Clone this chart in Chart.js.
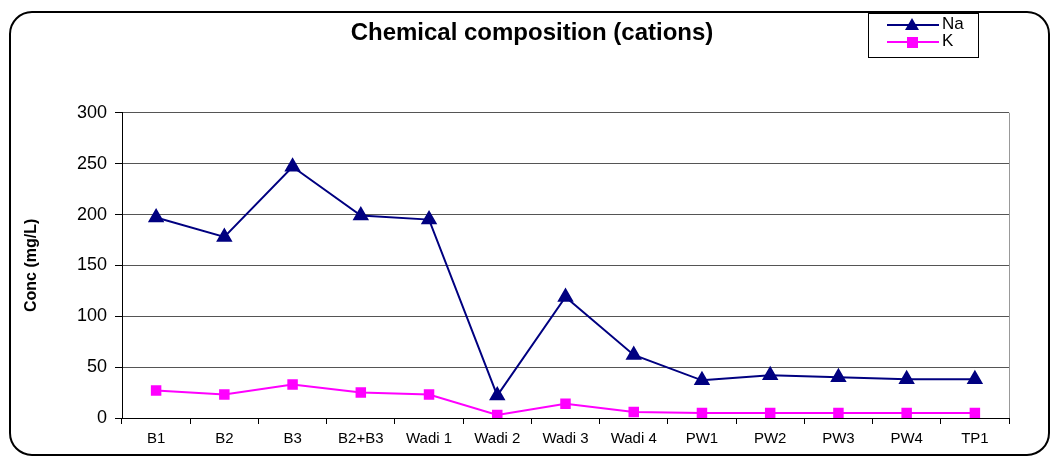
<!DOCTYPE html>
<html>
<head>
<meta charset="utf-8">
<script src="https://cdn.jsdelivr.net/npm/chart.js@4.4.1/dist/chart.umd.min.js"></script>
<style>
  html, body { margin: 0; padding: 0; background: #ffffff; }
  #wrap { position: relative; width: 1052px; height: 457px; }
</style>
</head>
<body>
<div id="wrap"><canvas id="c" width="1052" height="457"></canvas></div>
<script>
const categories = ['B1', 'B2', 'B3', 'B2+B3', 'Wadi 1', 'Wadi 2', 'Wadi 3', 'Wadi 4', 'PW1', 'PW2', 'PW3', 'PW4', 'TP1'];
const naValues = [197, 178, 247, 199, 195, 22, 119, 62, 37, 42, 40, 38, 38];
const kValues = [27, 23, 33, 25, 23, 3, 14, 6, 5, 5, 5, 5, 5];
const yTicks = [0, 50, 100, 150, 200, 250, 300];
const chartTitle = 'Chemical composition (cations)';
const yTitle = 'Conc (mg/L)';

const FONT = "'Liberation Sans', Arial, sans-serif";

const framePlugin = {
  id: 'frame',
  afterLayout(chart) {
    const t = chart.titleBlock;
    if (t) { t.left = 55; t.right = 1009; }
  },
  beforeDraw(chart) {
    const ctx = chart.ctx;
    ctx.save();
    ctx.fillStyle = '#ffffff';
    ctx.fillRect(0, 0, chart.width, chart.height);
    ctx.restore();
  },
  afterDraw(chart) {
    const ctx = chart.ctx;
    ctx.save();
    ctx.strokeStyle = '#000000';
    ctx.lineWidth = 2;
    ctx.beginPath();
    ctx.roundRect(10, 12, 1039, 443, 22);
    ctx.stroke();
    ctx.restore();
  }
};

const plotBorderPlugin = {
  id: 'plotBorder',
  beforeDatasetsDraw(chart) {
    const a = chart.chartArea;
    const ctx = chart.ctx;
    ctx.save();
    ctx.strokeStyle = '#999999';
    ctx.lineWidth = 1;
    ctx.beginPath();
    ctx.moveTo(a.right + 0.5, a.top);
    ctx.lineTo(a.right + 0.5, a.bottom);
    ctx.stroke();
    ctx.restore();
  }
};

const boxLegendPlugin = {
  id: 'boxLegend',
  afterDraw(chart) {
    const ctx = chart.ctx;
    const x0 = 868, y0 = 13, w = 110, h = 44;
    ctx.save();
    ctx.fillStyle = '#ffffff';
    ctx.fillRect(x0, y0, w, h);
    ctx.strokeStyle = '#000000';
    ctx.lineWidth = 1;
    ctx.strokeRect(x0 + 0.5, y0 + 0.5, w, h);
    const rows = [25, 42];
    chart.data.datasets.forEach((ds, i) => {
      const y = rows[i];
      ctx.strokeStyle = ds.borderColor;
      ctx.lineWidth = 2;
      ctx.beginPath();
      ctx.moveTo(887, y);
      ctx.lineTo(939, y);
      ctx.stroke();
      ctx.fillStyle = ds.pointBackgroundColor;
      if (ds.pointStyle === 'triangle') {
        ctx.beginPath();
        ctx.moveTo(912, y - 7);
        ctx.lineTo(919, y + 5);
        ctx.lineTo(905, y + 5);
        ctx.closePath();
        ctx.fill();
      } else {
        ctx.fillRect(907, y - 5, 11, 11);
      }
      ctx.fillStyle = '#000000';
      ctx.font = '17px ' + FONT;
      ctx.textBaseline = 'middle';
      ctx.textAlign = 'left';
      ctx.fillText(ds.label, 942, y - 1);
    });
    ctx.restore();
  }
};

new Chart(document.getElementById('c'), {
  type: 'line',
  data: {
    labels: categories,
    datasets: [
      {
        label: 'Na',
        data: naValues,
        borderColor: '#000080',
        backgroundColor: '#000080',
        pointBackgroundColor: '#000080',
        pointBorderColor: '#000080',
        pointStyle: 'triangle',
        pointRadius: 7.5,
        borderWidth: 2,
        tension: 0
      },
      {
        label: 'K',
        data: kValues,
        borderColor: '#ff00ff',
        backgroundColor: '#ff00ff',
        pointBackgroundColor: '#ff00ff',
        pointBorderColor: '#ff00ff',
        pointStyle: 'rect',
        pointRadius: 6,
        borderWidth: 2,
        tension: 0
      }
    ]
  },
  options: {
    responsive: false,
    animation: false,
    layout: { padding: { left: 22, right: 43, top: 0, bottom: 3 } },
    plugins: {
      legend: { display: false },
      tooltip: { enabled: false },
      title: {
        display: true,
        text: chartTitle,
        color: '#000000',
        font: { family: FONT, size: 24, weight: 'bold', lineHeight: 1.2 },
        padding: { top: 19, bottom: 65 }
      }
    },
    scales: {
      x: {
        type: 'category',
        offset: true,
        grid: {
          offset: true,
          drawOnChartArea: false,
          drawTicks: true,
          tickLength: 6,
          color: '#000000'
        },
        border: { display: true, color: '#000000', width: 1 },
        ticks: {
          color: '#000000',
          font: { family: FONT, size: 15 },
          padding: 6,
          maxRotation: 0,
          autoSkip: false
        }
      },
      y: {
        min: 0,
        max: 300,
        afterBuildTicks(scale) {
          scale.ticks = yTicks.map(v => ({ value: v }));
        },
        afterFit(scale) { scale.width = 100; },
        grid: {
          color: '#555555',
          lineWidth: 1,
          drawTicks: true,
          tickLength: 7,
          tickColor: '#000000'
        },
        border: { display: true, color: '#000000', width: 1 },
        ticks: {
          color: '#000000',
          font: { family: FONT, size: 18 },
          padding: 8
        },
        title: {
          display: true,
          text: yTitle,
          color: '#000000',
          font: { family: FONT, size: 16, weight: 'bold' },
          padding: { top: 0, bottom: 0 }
        }
      }
    }
  },
  plugins: [framePlugin, plotBorderPlugin, boxLegendPlugin]
});
</script>
</body>
</html>
